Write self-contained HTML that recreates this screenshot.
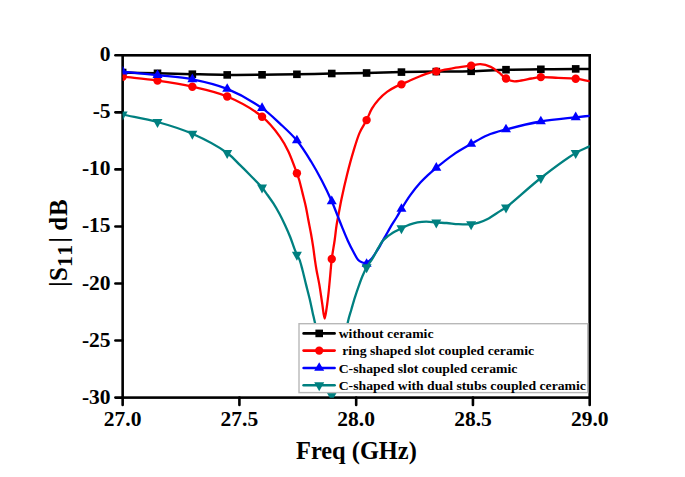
<!DOCTYPE html>
<html><head><meta charset="utf-8"><style>
html,body{margin:0;padding:0;background:#fff;}
svg{display:block;}
text{font-family:"Liberation Serif",serif;font-weight:bold;fill:#000;}
.tk{font-size:21.5px;}
.ax{font-size:24.4px;}
.lg{font-size:12.6px;}
</style></head><body>
<svg width="685" height="477" viewBox="0 0 685 477">
<rect width="685" height="477" fill="#fff"/>
<defs><clipPath id="pc"><rect x="122.65" y="55.3" width="467.05" height="342.5"/></clipPath></defs>
<g stroke="#000" stroke-width="2.6" fill="none" stroke-linecap="square">
<rect x="122.65" y="55.3" width="467.05" height="342.3"/>
</g>
<g stroke="#000" stroke-width="2.6" stroke-linecap="round">
<line x1="115.4" y1="55.30" x2="122.65" y2="55.30"/>
<line x1="115.4" y1="112.35" x2="122.65" y2="112.35"/>
<line x1="115.4" y1="169.40" x2="122.65" y2="169.40"/>
<line x1="115.4" y1="226.45" x2="122.65" y2="226.45"/>
<line x1="115.4" y1="283.50" x2="122.65" y2="283.50"/>
<line x1="115.4" y1="340.55" x2="122.65" y2="340.55"/>
<line x1="115.4" y1="397.60" x2="122.65" y2="397.60"/>
<line x1="122.65" y1="397.6" x2="122.65" y2="405"/>
<line x1="239.41" y1="397.6" x2="239.41" y2="405"/>
<line x1="356.18" y1="397.6" x2="356.18" y2="405"/>
<line x1="472.94" y1="397.6" x2="472.94" y2="405"/>
<line x1="589.70" y1="397.6" x2="589.70" y2="405"/>
</g>
<g clip-path="url(#pc)">
<path d="M122.65,72.50 C134.27,72.77 145.88,73.02 157.50,73.30 C169.12,73.58 180.73,73.93 192.35,74.20 C203.97,74.47 215.58,74.80 227.20,74.90 C238.82,75.00 250.43,74.90 262.05,74.80 C273.67,74.70 285.28,74.52 296.90,74.30 C308.52,74.08 320.13,73.72 331.75,73.50 C343.37,73.28 354.98,73.23 366.60,73.00 C378.22,72.77 389.83,72.33 401.45,72.10 C413.07,71.87 424.68,71.73 436.30,71.60 C447.92,71.47 459.54,71.62 471.15,71.30 C482.77,70.98 494.38,70.03 506.00,69.70 C517.61,69.37 529.23,69.43 540.85,69.30 C552.47,69.17 566.69,68.95 575.70,68.90 C581.41,68.87 585.03,68.90 589.70,68.90" fill="none" stroke="#000000" stroke-width="2.5" stroke-linejoin="round" stroke-linecap="round"/>
<g fill="#000000"><rect x="118.85" y="68.70" width="7.6" height="7.6"/><rect x="153.70" y="69.50" width="7.6" height="7.6"/><rect x="188.55" y="70.40" width="7.6" height="7.6"/><rect x="223.40" y="71.10" width="7.6" height="7.6"/><rect x="258.25" y="71.00" width="7.6" height="7.6"/><rect x="293.10" y="70.50" width="7.6" height="7.6"/><rect x="327.95" y="69.70" width="7.6" height="7.6"/><rect x="362.80" y="69.20" width="7.6" height="7.6"/><rect x="397.65" y="68.30" width="7.6" height="7.6"/><rect x="432.50" y="67.80" width="7.6" height="7.6"/><rect x="467.35" y="67.50" width="7.6" height="7.6"/><rect x="502.20" y="65.90" width="7.6" height="7.6"/><rect x="537.05" y="65.50" width="7.6" height="7.6"/><rect x="571.90" y="65.10" width="7.6" height="7.6"/></g>
<path d="M122.65,76.70 C134.27,78.00 145.91,78.94 157.50,80.60 C169.14,82.27 180.80,84.07 192.35,86.70 C204.03,89.36 215.88,91.72 227.20,96.50 C239.14,101.55 252.80,109.16 262.05,116.70 C269.62,122.86 275.38,130.40 280.00,136.80 C283.65,141.86 285.78,145.93 288.40,151.40 C291.49,157.86 294.99,168.09 296.90,173.30 C297.95,176.16 298.41,177.36 299.20,180.00 C300.30,183.68 301.48,188.92 302.60,193.40 C303.72,197.89 304.93,202.39 305.90,206.90 C306.86,211.36 307.55,215.83 308.40,220.30 C309.25,224.79 310.20,229.30 311.00,233.80 C311.80,238.27 312.55,242.87 313.20,247.20 C313.81,251.25 314.24,255.14 314.80,259.00 C315.34,262.73 315.82,266.09 316.50,270.00 C317.28,274.48 318.41,279.25 319.30,284.40 C320.32,290.31 321.27,297.52 322.20,303.50 C323.03,308.80 323.79,318.49 324.60,318.50 C325.29,318.51 326.08,311.48 326.70,307.60 C327.40,303.19 327.94,298.40 328.50,293.40 C329.12,287.81 329.65,281.43 330.20,275.60 C330.73,269.97 331.04,264.71 331.75,259.00 C332.51,252.87 333.86,245.97 334.70,240.00 C335.45,234.71 335.85,229.81 336.60,225.00 C337.30,220.50 338.18,216.33 339.00,212.00 C339.82,207.67 340.45,204.00 341.50,199.00 C342.95,192.11 345.09,182.53 347.10,174.50 C349.06,166.67 351.19,158.67 353.40,151.40 C355.41,144.78 357.27,138.13 359.70,132.60 C361.76,127.90 364.52,124.21 366.60,120.10 C368.56,116.25 369.82,112.20 371.90,108.70 C373.88,105.36 376.17,102.31 378.70,99.50 C381.21,96.71 384.11,94.05 387.00,91.90 C389.69,89.90 392.78,88.21 395.40,86.90 C397.54,85.83 399.24,85.37 401.45,84.40 C404.18,83.21 407.39,81.57 410.50,80.20 C413.76,78.77 417.28,77.29 420.60,76.00 C423.77,74.77 427.15,73.38 430.00,72.60 C432.28,71.97 433.68,71.90 436.30,71.40 C440.64,70.57 447.80,69.07 453.60,68.10 C459.42,67.13 466.23,66.32 471.15,65.60 C474.72,65.07 477.25,64.03 480.40,64.20 C483.76,64.38 487.58,65.48 490.70,66.90 C493.69,68.26 496.23,70.45 498.80,72.40 C501.32,74.32 503.47,77.01 506.00,78.50 C508.27,79.84 510.61,80.85 513.10,81.20 C515.70,81.56 518.43,80.90 521.30,80.50 C524.53,80.05 528.17,79.08 531.50,78.50 C534.68,77.95 537.25,77.28 540.85,77.10 C545.72,76.85 552.32,77.63 558.10,77.90 C563.94,78.17 570.19,78.09 575.70,78.70 C580.65,79.25 585.03,80.37 589.70,81.20" fill="none" stroke="#ff0000" stroke-width="2.3" stroke-linejoin="round" stroke-linecap="round"/>
<g fill="#ff0000"><circle cx="122.65" cy="76.70" r="4.2"/><circle cx="157.50" cy="80.60" r="4.2"/><circle cx="192.35" cy="86.70" r="4.2"/><circle cx="227.20" cy="96.50" r="4.2"/><circle cx="262.05" cy="116.70" r="4.2"/><circle cx="296.90" cy="173.30" r="4.2"/><circle cx="331.75" cy="259.00" r="4.2"/><circle cx="366.60" cy="120.10" r="4.2"/><circle cx="401.45" cy="84.40" r="4.2"/><circle cx="436.30" cy="71.40" r="4.2"/><circle cx="471.15" cy="65.60" r="4.2"/><circle cx="506.00" cy="78.50" r="4.2"/><circle cx="540.85" cy="77.10" r="4.2"/><circle cx="575.70" cy="78.70" r="4.2"/></g>
<path d="M122.65,71.60 C134.27,72.80 145.89,73.92 157.50,75.20 C169.12,76.48 180.82,77.05 192.35,79.30 C204.05,81.59 215.85,84.28 227.20,88.90 C239.11,93.74 252.62,101.54 262.05,108.10 C269.33,113.17 274.20,118.21 280.00,123.60 C285.82,129.01 291.75,134.26 296.90,140.50 C302.26,147.00 307.09,154.98 311.40,162.00 C315.33,168.39 318.55,174.34 321.90,180.80 C325.34,187.43 329.01,195.11 331.75,201.30 C333.96,206.29 335.54,210.62 337.30,215.00 C338.91,219.02 340.26,222.57 341.90,226.60 C343.70,231.01 345.69,236.03 347.70,240.40 C349.57,244.47 351.63,248.56 353.50,252.00 C355.05,254.86 356.34,257.95 358.00,259.70 C359.19,260.95 360.63,261.67 361.80,262.20 C362.69,262.60 363.42,262.90 364.30,262.90 C365.30,262.90 366.42,262.57 367.50,262.00 C368.91,261.26 370.41,259.94 371.80,258.40 C373.57,256.43 375.43,253.08 376.90,250.80 C378.08,248.97 379.00,247.52 380.00,245.80 C381.03,244.02 381.96,242.16 383.00,240.30 C384.09,238.36 385.24,236.44 386.40,234.40 C387.64,232.22 388.73,230.10 390.20,227.60 C392.07,224.44 394.81,220.30 396.80,217.00 C398.51,214.16 399.61,212.01 401.45,209.00 C403.89,205.00 407.13,199.62 410.30,195.20 C413.45,190.82 417.19,186.18 420.40,182.60 C423.00,179.70 425.28,177.54 427.90,175.10 C430.58,172.60 432.96,170.54 436.30,167.80 C440.95,163.99 447.52,158.60 453.40,154.60 C459.15,150.69 465.32,147.31 471.15,144.00 C476.68,140.86 481.76,137.60 487.50,135.20 C493.36,132.75 498.82,131.43 506.00,129.50 C515.75,126.88 529.18,123.54 540.85,121.50 C552.41,119.48 566.68,118.33 575.70,117.30 C581.41,116.65 585.03,116.30 589.70,115.80" fill="none" stroke="#0000ff" stroke-width="2.3" stroke-linejoin="round" stroke-linecap="round"/>
<g fill="#0000ff"><path d="M122.65,65.87L127.65,74.47L117.65,74.47Z"/><path d="M157.50,69.47L162.50,78.07L152.50,78.07Z"/><path d="M192.35,73.57L197.35,82.17L187.35,82.17Z"/><path d="M227.20,83.17L232.20,91.77L222.20,91.77Z"/><path d="M262.05,102.37L267.05,110.97L257.05,110.97Z"/><path d="M296.90,134.77L301.90,143.37L291.90,143.37Z"/><path d="M331.75,195.57L336.75,204.17L326.75,204.17Z"/><path d="M366.60,258.27L371.60,266.87L361.60,266.87Z"/><path d="M401.45,203.27L406.45,211.87L396.45,211.87Z"/><path d="M436.30,162.07L441.30,170.67L431.30,170.67Z"/><path d="M471.15,138.27L476.15,146.87L466.15,146.87Z"/><path d="M506.00,123.77L511.00,132.37L501.00,132.37Z"/><path d="M540.85,115.77L545.85,124.37L535.85,124.37Z"/><path d="M575.70,111.57L580.70,120.17L570.70,120.17Z"/></g>
<path d="M122.65,114.50 C134.27,117.00 145.97,118.82 157.50,122.00 C169.21,125.23 180.95,128.78 192.35,133.80 C204.20,139.02 218.69,146.79 227.20,153.00 C232.89,157.15 236.08,161.31 240.10,165.20 C243.69,168.68 246.72,171.67 250.20,175.20 C254.01,179.07 258.95,183.81 262.05,187.50 C264.33,190.22 265.66,192.42 267.50,195.00 C269.44,197.71 271.49,200.43 273.40,203.40 C275.44,206.57 277.40,209.98 279.30,213.50 C281.31,217.22 283.28,221.27 285.10,225.20 C286.91,229.10 288.64,233.05 290.20,237.00 C291.73,240.88 293.15,245.44 294.40,248.70 C295.31,251.07 296.01,252.93 296.90,254.80 C297.69,256.46 298.62,257.51 299.40,259.40 C300.51,262.10 301.40,265.95 302.40,269.70 C303.59,274.15 304.78,279.50 306.00,284.40 C307.22,289.30 308.58,294.31 309.70,299.10 C310.76,303.64 311.68,308.26 312.60,312.40 C313.40,316.03 314.00,318.23 314.90,322.60 C316.50,330.35 318.43,343.65 321.00,355.00 C323.90,367.80 328.25,395.52 331.75,395.50 C335.25,395.48 339.20,367.96 342.00,355.00 C344.54,343.22 346.20,329.25 348.10,321.00 C349.21,316.19 350.18,313.56 351.30,309.70 C352.48,305.64 353.72,301.25 355.00,297.20 C356.22,293.33 357.50,289.55 358.80,285.90 C360.04,282.43 361.25,279.01 362.60,275.80 C363.86,272.79 365.05,269.91 366.60,267.20 C368.12,264.55 370.14,262.37 371.80,259.70 C373.58,256.83 375.41,253.17 376.90,250.50 C378.06,248.43 378.94,246.71 380.00,245.00 C380.98,243.43 381.88,241.91 383.00,240.60 C384.06,239.36 385.26,238.33 386.50,237.30 C387.76,236.26 389.11,235.33 390.50,234.40 C391.94,233.43 393.34,232.54 395.00,231.60 C396.94,230.50 399.17,229.41 401.45,228.30 C403.97,227.08 406.78,225.59 409.50,224.60 C412.13,223.64 414.75,222.90 417.50,222.40 C420.34,221.88 423.27,221.60 426.30,221.60 C429.53,221.60 432.93,222.27 436.30,222.50 C439.73,222.74 443.14,222.73 446.70,223.00 C450.49,223.29 454.41,223.98 458.40,224.20 C462.55,224.43 467.46,224.67 471.15,224.30 C474.04,224.01 476.20,223.50 478.80,222.70 C481.67,221.82 484.50,220.72 487.60,219.10 C491.47,217.08 496.60,213.25 500.00,211.10 C502.35,209.62 503.28,209.37 506.00,207.40 C512.93,202.38 529.05,187.19 540.85,178.00 C552.29,169.09 566.49,158.45 575.70,153.00 C581.24,149.72 585.03,148.53 589.70,146.30" fill="none" stroke="#008080" stroke-width="2.3" stroke-linejoin="round" stroke-linecap="round"/>
<g fill="#008080"><path d="M117.65,111.50L127.65,111.50L122.65,120.50Z"/><path d="M152.50,119.00L162.50,119.00L157.50,128.00Z"/><path d="M187.35,130.80L197.35,130.80L192.35,139.80Z"/><path d="M222.20,150.00L232.20,150.00L227.20,159.00Z"/><path d="M257.05,184.50L267.05,184.50L262.05,193.50Z"/><path d="M291.90,251.80L301.90,251.80L296.90,260.80Z"/><path d="M326.75,392.50L336.75,392.50L331.75,401.50Z"/><path d="M361.60,264.20L371.60,264.20L366.60,273.20Z"/><path d="M396.45,225.30L406.45,225.30L401.45,234.30Z"/><path d="M431.30,219.50L441.30,219.50L436.30,228.50Z"/><path d="M466.15,221.30L476.15,221.30L471.15,230.30Z"/><path d="M501.00,204.40L511.00,204.40L506.00,213.40Z"/><path d="M535.85,175.00L545.85,175.00L540.85,184.00Z"/><path d="M570.70,150.00L580.70,150.00L575.70,159.00Z"/></g>
</g>
<rect x="299.0" y="323.7" width="288.7" height="68.9" fill="#fff" stroke="#b8b8b8" stroke-width="1.4"/>
<line x1="303.6" y1="333.4" x2="334.6" y2="333.4" stroke="#000000" stroke-width="2.6" stroke-linecap="round"/>
<g fill="#000000"><rect x="315.40" y="329.60" width="7.6" height="7.6"/></g>
<text transform="translate(338.7,338.1) scale(1.09,1)" class="lg">without ceramic</text>
<line x1="303.6" y1="350.6" x2="334.6" y2="350.6" stroke="#ff0000" stroke-width="2.6" stroke-linecap="round"/>
<g fill="#ff0000"><circle cx="319.20" cy="350.60" r="4.2"/></g>
<text transform="translate(338.7,355.3) scale(1.09,1)" class="lg"> ring shaped slot coupled ceramic</text>
<line x1="303.6" y1="368.0" x2="334.6" y2="368.0" stroke="#0000ff" stroke-width="2.6" stroke-linecap="round"/>
<g fill="#0000ff"><path d="M319.20,362.27L324.20,370.87L314.20,370.87Z"/></g>
<text transform="translate(338.7,372.7) scale(1.09,1)" class="lg">C-shaped slot coupled ceramic</text>
<line x1="303.6" y1="385.3" x2="334.6" y2="385.3" stroke="#008080" stroke-width="2.6" stroke-linecap="round"/>
<g fill="#008080"><path d="M314.20,382.30L324.20,382.30L319.20,391.30Z"/></g>
<text transform="translate(338.7,390.0) scale(1.09,1)" class="lg">C-shaped with dual stubs coupled ceramic</text>
<text x="110.6" y="61.30" class="tk" text-anchor="end">0</text>
<text x="110.6" y="118.35" class="tk" text-anchor="end">-5</text>
<text x="110.6" y="175.40" class="tk" text-anchor="end">-10</text>
<text x="110.6" y="232.45" class="tk" text-anchor="end">-15</text>
<text x="110.6" y="289.50" class="tk" text-anchor="end">-20</text>
<text x="110.6" y="346.55" class="tk" text-anchor="end">-25</text>
<text x="110.6" y="403.60" class="tk" text-anchor="end">-30</text>
<text x="122.65" y="426.4" class="tk" text-anchor="middle">27.0</text>
<text x="239.41" y="426.4" class="tk" text-anchor="middle">27.5</text>
<text x="356.18" y="426.4" class="tk" text-anchor="middle">28.0</text>
<text x="472.94" y="426.4" class="tk" text-anchor="middle">28.5</text>
<text x="589.70" y="426.4" class="tk" text-anchor="middle">29.0</text>
<text x="356.4" y="458.5" class="ax" text-anchor="middle">Freq (GHz)</text>
<g transform="translate(66.6,0) rotate(-90)" style="font-size:25px"><text x="-286.8" y="0">|</text><text x="-281.1" y="0">S</text><text x="-267.0" y="5.8" style="font-size:21.5px;letter-spacing:1.6px">11</text><text x="-242.6" y="0">|</text><text x="-230.8" y="0" style="letter-spacing:0.8px">dB</text></g>
</svg>
</body></html>
